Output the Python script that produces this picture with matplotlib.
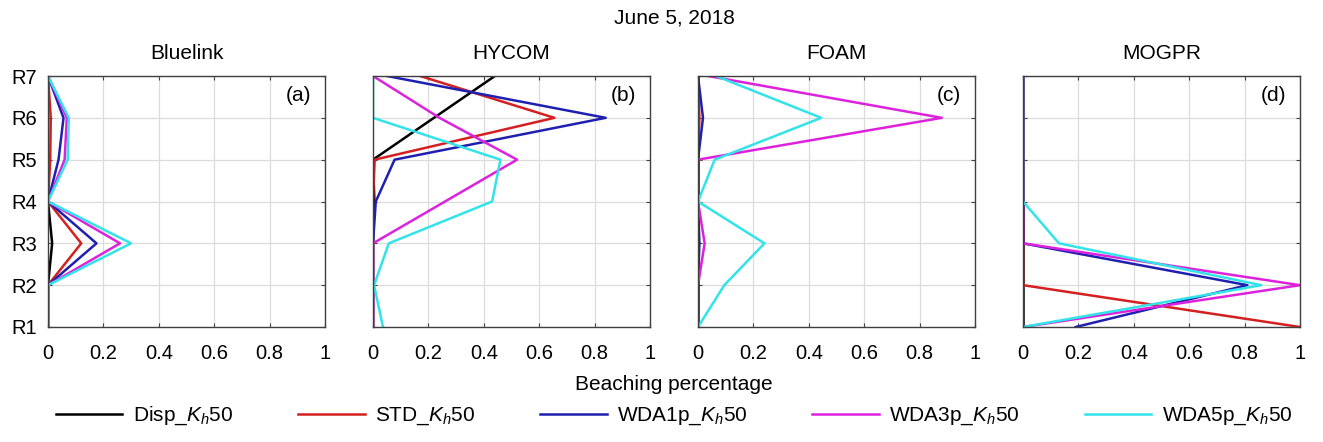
import numpy as np
import matplotlib
matplotlib.use('Agg')
import matplotlib.pyplot as plt

plt.rcParams['font.family'] = ['Liberation Sans', 'DejaVu Sans']
plt.rcParams['mathtext.fontset'] = 'custom'
plt.rcParams['mathtext.rm'] = 'Liberation Sans'
plt.rcParams['mathtext.it'] = 'Liberation Sans:italic'

regions = ['R1', 'R2', 'R3', 'R4', 'R5', 'R6', 'R7']
models = ['Bluelink', 'HYCOM', 'FOAM', 'MOGPR']
panel_tags = ['(a)', '(b)', '(c)', '(d)']
runs = ['Disp', 'STD', 'WDA1p', 'WDA3p', 'WDA5p']
colors = ['black', '#d42020', '#1f1fb0', '#dd22dd', '#33e3ea']

# beaching fraction per region R1..R7
bluelink_disp = [0, 0, 0.015, 0, 0, 0, 0]
bluelink_std = [0, 0, 0.12, 0, 0.008, 0.01, 0]
bluelink_wda1p = [0, 0, 0.175, 0, 0.038, 0.056, 0]
bluelink_wda3p = [0, 0, 0.26, 0, 0.06, 0.068, 0]
bluelink_wda5p = [0, 0, 0.30, 0, 0.071, 0.075, 0]

hycom_disp = [0, 0, 0, 0.005, 0, 0.22, 0.44]
hycom_std = [0, 0, 0, 0, 0.006, 0.655, 0.17]
hycom_wda1p = [0, 0, 0, 0.01, 0.078, 0.84, 0.05]
hycom_wda3p = [0, 0, 0, 0.26, 0.52, 0.24, 0]
hycom_wda5p = [0.036, 0.004, 0.057, 0.43, 0.46, 0, 0]

foam_disp = [0, 0, 0, 0, 0, 0, 0]
foam_std = [0, 0, 0, 0, 0, 0.005, 0]
foam_wda1p = [0, 0, 0.005, 0, 0, 0.018, 0]
foam_wda3p = [0, 0, 0.024, 0, 0, 0.88, 0.036]
foam_wda5p = [0, 0.095, 0.24, 0, 0.06, 0.445, 0.065]

mogpr_disp = [0, 0, 0, 0, 0, 0, 0]
mogpr_std = [1.0, 0, 0, 0, 0, 0, 0]
mogpr_wda1p = [0.19, 0.81, 0, 0, 0, 0, 0]
mogpr_wda3p = [0, 1.0, 0, 0, 0, 0, 0]
mogpr_wda5p = [0, 0.86, 0.13, 0, 0, 0, 0]

data = [
    [bluelink_disp, bluelink_std, bluelink_wda1p, bluelink_wda3p, bluelink_wda5p],
    [hycom_disp, hycom_std, hycom_wda1p, hycom_wda3p, hycom_wda5p],
    [foam_disp, foam_std, foam_wda1p, foam_wda3p, foam_wda5p],
    [mogpr_disp, mogpr_std, mogpr_wda1p, mogpr_wda3p, mogpr_wda5p],
]

y = np.arange(1, len(regions) + 1)
W, H = 1323, 442
fig = plt.figure(figsize=(W / 100, H / 100), dpi=100)

lefts = [48, 373, 698, 1023]
ax_w = 277
top, bottom = 76, 327
axes = []
for i, left in enumerate(lefts):
    ax = fig.add_axes([left / W, 1 - bottom / H, ax_w / W, (bottom - top) / H])
    for vals, c in zip(data[i], colors):
        ax.plot(vals, y, color=c, lw=1.8)
    ax.set_xlim(0, 1)
    ax.set_ylim(1, 7)
    ax.set_xticks([0, 0.2, 0.4, 0.6, 0.8, 1])
    ax.set_xticklabels(['0', '0.2', '0.4', '0.6', '0.8', '1'])
    ax.set_yticks(y)
    if i == 0:
        ax.set_yticklabels(regions)
    else:
        ax.set_yticklabels([])
    ax.tick_params(direction='in', top=True, right=True, length=3, width=0.8,
                   color='#404040', labelsize=14.5)
    ax.tick_params(axis='x', pad=12)
    ax.tick_params(axis='y', pad=8)
    ax.grid(True, color='#dcdcdc', lw=0.9)
    ax.set_axisbelow(True)
    for s in ax.spines.values():
        s.set_color('#404040')
        s.set_linewidth(1.0)
    ax.set_title(models[i], fontsize=15, pad=12)
    ax.text(0.95, 0.96, panel_tags[i], transform=ax.transAxes, ha='right', va='top',
            fontsize=15)
    axes.append(ax)

mid = (lefts[0] + lefts[-1] + ax_w) / 2 / W
fig.text(mid, 1 - 18 / H, 'June 5, 2018', ha='center', va='center', fontsize=15)
fig.text(mid, 1 - 385 / H, 'Beaching percentage', ha='center', va='center', fontsize=15)

handles = axes[0].get_lines()
labels = [r + r'_$K_h$50' for r in runs]
fig.legend(handles, labels, loc='center', bbox_to_anchor=(mid, 1 - 416 / H), ncol=5,
           frameon=False, fontsize=15, handlelength=3.2, columnspacing=3.1,
           handletextpad=0.5)

fig.savefig('out.png', dpi=100)
